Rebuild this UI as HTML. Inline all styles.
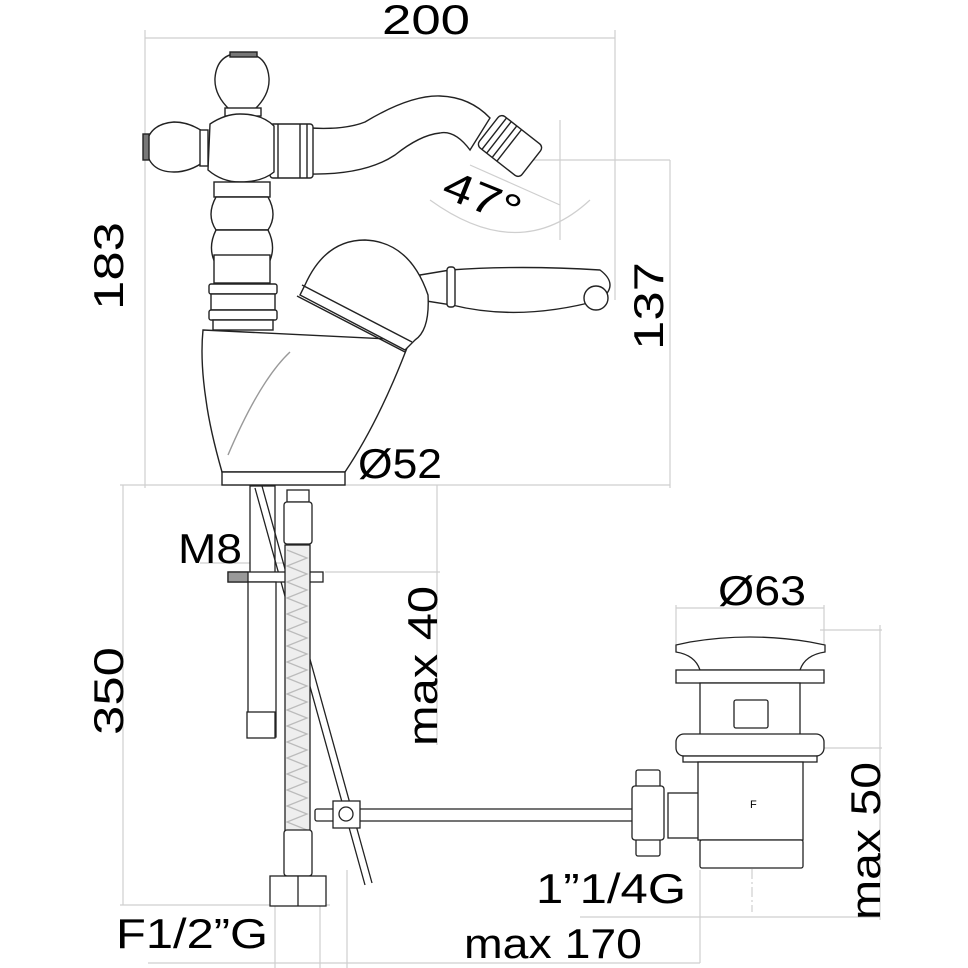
<!DOCTYPE html>
<html><head><meta charset="utf-8"><style>
html,body{margin:0;padding:0;background:#fff;width:968px;height:968px;overflow:hidden}
svg{display:block}
text{font-family:"Liberation Sans Narrow","Liberation Sans",sans-serif;fill:#000;font-size:42px}
</style></head><body>
<svg width="968" height="968" viewBox="0 0 968 968" xmlns="http://www.w3.org/2000/svg">
<g stroke="#cfcfcf" stroke-width="1.2" fill="none">
<line x1="145" y1="38" x2="615" y2="38"/>
<line x1="145" y1="30" x2="145" y2="488"/>
<line x1="615" y1="30" x2="615" y2="300"/>
<line x1="120" y1="485" x2="670" y2="485"/>
<line x1="520" y1="160" x2="670" y2="160"/>
<line x1="670" y1="160" x2="670" y2="488"/>
<line x1="123" y1="485" x2="123" y2="905"/>
<line x1="120" y1="905" x2="330" y2="905"/>
<line x1="275" y1="900" x2="275" y2="968"/>
<line x1="320" y1="900" x2="320" y2="968"/>
<line x1="347" y1="870" x2="347" y2="968"/>
<line x1="148" y1="963" x2="700" y2="963"/>
<line x1="437" y1="485" x2="437" y2="745"/>
<line x1="325" y1="572" x2="440" y2="572"/>
<line x1="200" y1="563" x2="290" y2="563"/>
<line x1="676" y1="605" x2="676" y2="645"/>
<line x1="824" y1="605" x2="824" y2="645"/>
<line x1="676" y1="608" x2="824" y2="608"/>
<line x1="820" y1="630" x2="882" y2="630"/>
<line x1="820" y1="748" x2="882" y2="748"/>
<line x1="880" y1="625" x2="880" y2="920"/>
<line x1="580" y1="917" x2="880" y2="917"/>
<line x1="700" y1="870" x2="700" y2="963"/>
<line x1="752" y1="815" x2="752" y2="912" stroke-dasharray="10 3 2 3"/>
<path d="M470 165 L560 205"/>
<path d="M560 120 L560 240"/>
<path d="M430 200 Q520 265 590 200"/>
</g>
<g fill="#fff" stroke="#222" stroke-width="1.4">
<path d="M310 128 Q345 130 365 122 Q410 95 440 96 Q470 97 490 118 L470 150 Q455 130 440 133 Q420 135 395 155 Q365 175 310 174 Z"/>
<g transform="rotate(38 510 146)"><rect x="483" y="126" width="54" height="40" rx="5"/><line x1="490" y1="126" x2="490" y2="166"/><line x1="496" y1="126" x2="496" y2="166"/><line x1="503" y1="126" x2="503" y2="166"/><line x1="509" y1="126" x2="509" y2="166"/></g>
<rect x="270" y="124" width="43" height="54" rx="3"/>
<line x1="278" y1="124" x2="278" y2="178"/><line x1="300" y1="124" x2="300" y2="178"/><line x1="307" y1="124" x2="307" y2="178"/>
<path d="M230 110 Q214 95 215 78 Q217 53 242 53 Q267 53 269 78 Q270 95 254 110 Z"/>
<rect x="230" y="52" width="27" height="5" fill="#777"/>
<rect x="225" y="108" width="36" height="8"/>
<path d="M205 133 Q190 122 174 122 Q148 124 146 147 Q148 172 174 172 Q190 172 205 161 Z"/>
<rect x="143" y="134" width="6" height="26" fill="#777"/>
<rect x="200" y="130" width="8" height="36"/>
<path d="M210 124 Q225 114 240 114 Q262 114 274 126 L274 172 Q262 182 240 182 Q222 182 208 170 Z"/>
<rect x="214" y="182" width="56" height="15"/>
<path d="M216 197 Q206 215 216 230 L268 230 Q278 215 268 197 Z"/>
<path d="M216 230 Q206 250 218 268 L266 268 Q278 250 268 230 Z"/>
<rect x="214" y="255" width="56" height="28"/>
<rect x="209" y="284" width="68" height="10" rx="2"/>
<rect x="211" y="294" width="64" height="16"/>
<rect x="209" y="310" width="68" height="10" rx="2"/>
<rect x="213" y="320" width="60" height="10"/>
<path d="M420 275 L450 270 Q520 265 600 270 Q620 285 600 300 Q520 322 452 305 L420 300 Z"/>
<rect x="447" y="267" width="8" height="40" rx="3"/>
<circle cx="596" cy="298" r="12"/>
<path d="M203 330 L410 340 Q380 420 345 472 L222 472 Q210 430 206 400 Q200 360 203 330 Z"/>
<path d="M228 455 Q260 380 290 352" fill="none" stroke="#999"/>
<rect x="222" y="472" width="123" height="13"/>
<path d="M305 285 Q325 240 365 240 Q410 242 428 295 Q430 330 415 340 L405 350 L300 295 Z"/>
<path d="M302 285 L412 342" fill="none"/>
<path d="M297 296 L405 352" fill="none"/>
</g>
<g fill="#fff" stroke="#222" stroke-width="1.3">
<rect x="250" y="486" width="25" height="95"/>
<path d="M255 488 L365 885 M262 486 L372 883" fill="none"/>
<rect x="228" y="572" width="95" height="10"/>
<rect x="228" y="572" width="20" height="10" fill="#999"/>
<rect x="248" y="582" width="28" height="155"/>
<rect x="247" y="712" width="28" height="26"/>
<rect x="285" y="545" width="25" height="287" fill="#eee"/>
<path d="M287 550 l20 8 l-20 8 l20 8 l-20 8 l20 8 l-20 8 l20 8 l-20 8 l20 8 l-20 8 l20 8 l-20 8 l20 8 l-20 8 l20 8 l-20 8 l20 8 l-20 8 l20 8 l-20 8 l20 8 l-20 8 l20 8 l-20 8 l20 8 l-20 8 l20 8 l-20 8 l20 8 l-20 8 l20 8 l-20 8 l20 8 l-20 8 l20 8" fill="none" stroke="#bbb"/>
<rect x="287" y="490" width="22" height="12"/>
<rect x="284" y="502" width="28" height="42" rx="3"/>
<rect x="284" y="830" width="28" height="46" rx="3"/>
<rect x="270" y="876" width="56" height="30"/>
<line x1="298" y1="876" x2="298" y2="906"/>
<rect x="315" y="809" width="320" height="12" rx="2"/>
<rect x="333" y="801" width="27" height="27"/>
<circle cx="346" cy="814" r="7"/>
<rect x="636" y="770" width="24" height="86" rx="2"/>
<rect x="632" y="786" width="32" height="54" rx="3"/>
<rect x="668" y="793" width="32" height="45"/>
<path d="M690 642 Q750 632 810 642 L825 645 L825 652 Q805 655 800 670 L700 670 Q695 655 676 652 L676 645 Z"/>
<rect x="676" y="670" width="148" height="13"/>
<rect x="700" y="683" width="100" height="52"/>
<rect x="734" y="700" width="34" height="28" rx="2"/>
<rect x="676" y="734" width="148" height="22" rx="8"/>
<rect x="683" y="756" width="134" height="6"/>
<rect x="698" y="762" width="105" height="78"/>
<rect x="700" y="840" width="103" height="28" rx="2"/>
</g>
<text x="750" y="808" style="font-size:11px">F</text>
<text x="382" y="34" textLength="88" lengthAdjust="spacingAndGlyphs">200</text>
<text transform="translate(123,310) rotate(-90)" textLength="88" lengthAdjust="spacingAndGlyphs">183</text>
<text transform="translate(663,350) rotate(-90)" textLength="88" lengthAdjust="spacingAndGlyphs">137</text>
<text transform="translate(440,196) rotate(22)" textLength="80" lengthAdjust="spacingAndGlyphs">47°</text>
<text x="358" y="478" textLength="84" lengthAdjust="spacingAndGlyphs">Ø52</text>
<text x="178" y="563" textLength="64" lengthAdjust="spacingAndGlyphs">M8</text>
<text transform="translate(437,746) rotate(-90)" textLength="160" lengthAdjust="spacingAndGlyphs">max 40</text>
<text transform="translate(123,735) rotate(-90)" textLength="88" lengthAdjust="spacingAndGlyphs">350</text>
<text x="718" y="605" textLength="88" lengthAdjust="spacingAndGlyphs">Ø63</text>
<text transform="translate(880,920) rotate(-90)" textLength="158" lengthAdjust="spacingAndGlyphs">max 50</text>
<text x="536" y="903" textLength="150" lengthAdjust="spacingAndGlyphs">1”1/4G</text>
<text x="116" y="948" textLength="152" lengthAdjust="spacingAndGlyphs">F1/2”G</text>
<text x="464" y="958" textLength="178" lengthAdjust="spacingAndGlyphs">max 170</text>
</svg>
</body></html>
